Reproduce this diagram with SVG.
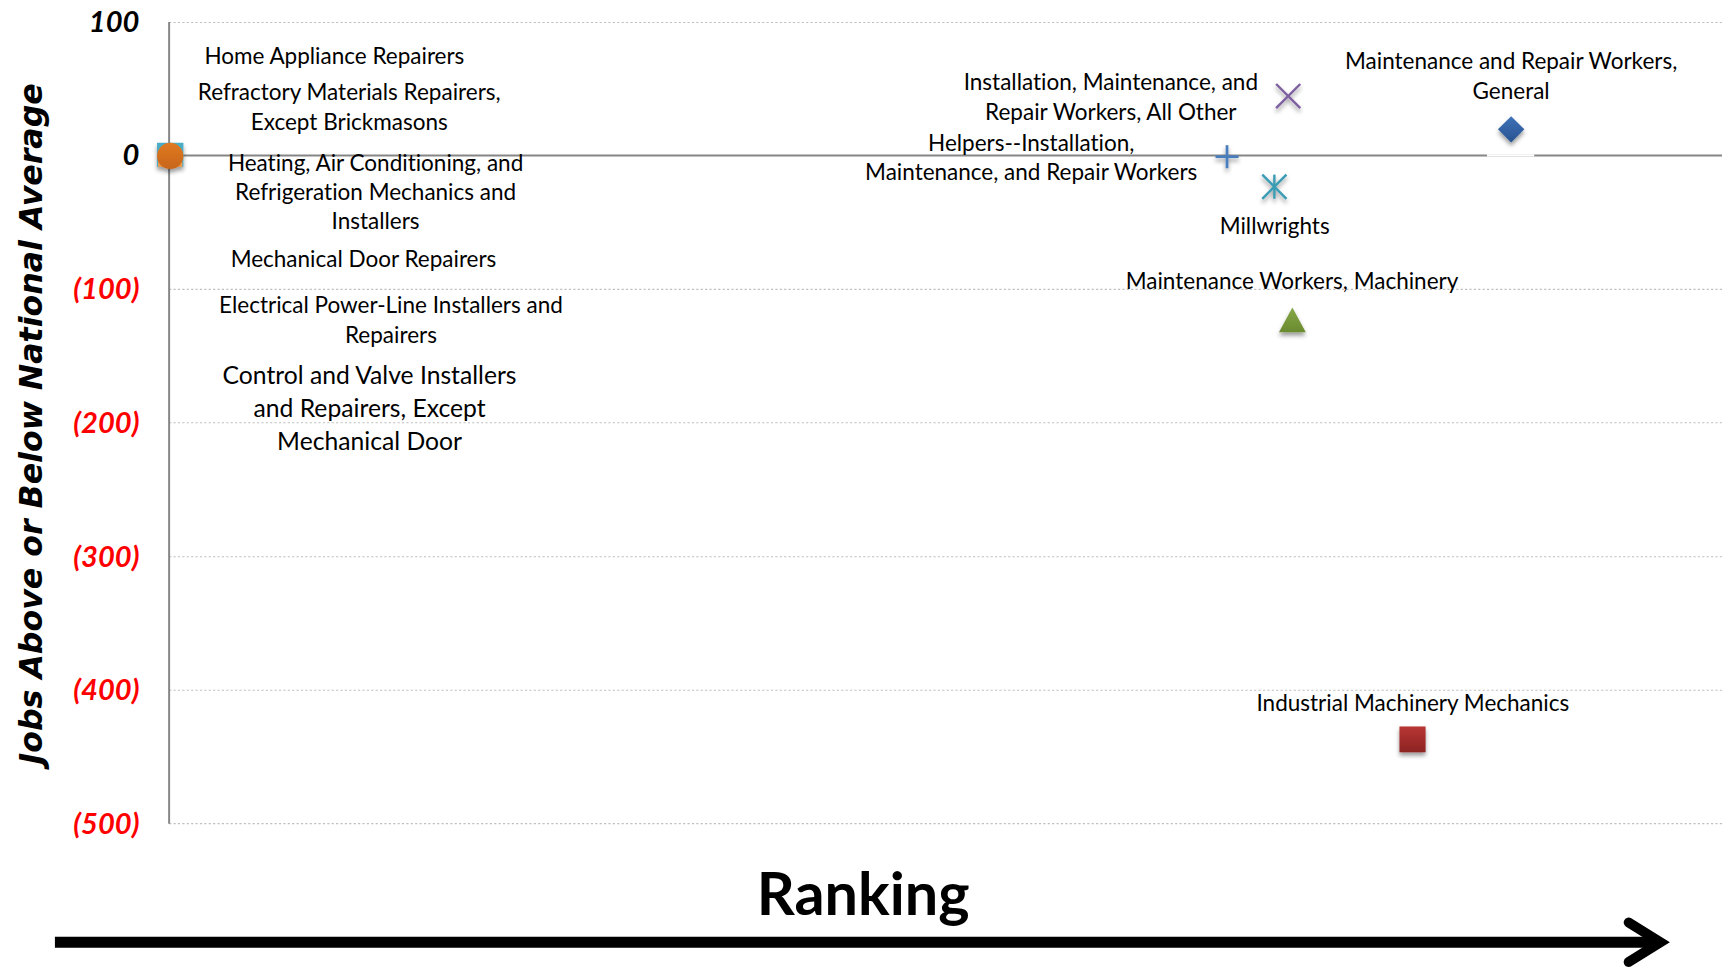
<svg xmlns="http://www.w3.org/2000/svg" width="1722" height="967" viewBox="0 0 1722 967">
  <style>
    text { font-variant-ligatures: none; }
    .lbl { font-family: Lato, "Open Sans", "Liberation Sans", sans-serif; font-size: 20.5px; fill: #000; text-anchor: middle; }
    .lbl-lg { font-size: 22.5px; }
    .tick { font-family: Lato, "Liberation Sans", sans-serif; font-size: 26.5px; font-weight: bold; font-style: italic; text-anchor: end; }
    .neg { fill: #ff0000; }
    .grid { stroke: #c0c0c0; stroke-width: 1; stroke-dasharray: 2 2; fill: none; }
    .axis { stroke: #868686; stroke-width: 1.8; fill: none; }
    .ytitle { font-family: "DejaVu Sans", Verdana, sans-serif; font-size: 28.8px; font-weight: bold; font-style: italic; text-anchor: middle; }
    .xtitle { font-family: Lato, "Liberation Sans", sans-serif; font-size: 54px; font-weight: bold; text-anchor: middle; }
  </style>
  <defs>
    <filter id="sh" x="-50%" y="-50%" width="200%" height="200%">
      <feDropShadow dx="0" dy="3" stdDeviation="2" flood-color="#000" flood-opacity="0.4"/>
    </filter>
    <linearGradient id="gRed" x1="0" y1="0" x2="0" y2="1">
      <stop offset="0" stop-color="#B83532"/>
      <stop offset="1" stop-color="#8C2423"/>
    </linearGradient>
    <linearGradient id="gBlue" x1="0" y1="0" x2="0" y2="1">
      <stop offset="0" stop-color="#3F72B8"/>
      <stop offset="1" stop-color="#275390"/>
    </linearGradient>
    <linearGradient id="gGreen" x1="0" y1="0" x2="0" y2="1">
      <stop offset="0" stop-color="#86A847"/>
      <stop offset="1" stop-color="#6A8A30"/>
    </linearGradient>
    <linearGradient id="gOrange" x1="0" y1="0" x2="0" y2="1">
      <stop offset="0" stop-color="#E07A22"/>
      <stop offset="1" stop-color="#C7651A"/>
    </linearGradient>
  </defs>
  <rect width="1722" height="967" fill="#ffffff"/>
  <g transform="scale(1.09821)">
    <g id="axes">
      <line class="grid" x1="154" y1="20.5" x2="1568" y2="20.5"/>
      <line class="grid" x1="154" y1="263.5" x2="1568" y2="263.5"/>
      <line class="grid" x1="154" y1="385" x2="1568" y2="385"/>
      <line class="grid" x1="154" y1="507" x2="1568" y2="507"/>
      <line class="grid" x1="154" y1="628.5" x2="1568" y2="628.5"/>
      <line class="grid" x1="154" y1="750" x2="1568" y2="750"/>
      <line class="axis" x1="154" y1="141.5" x2="1568" y2="141.5"/>
      <line class="axis" x1="154" y1="20" x2="154" y2="750"/>
      <line x1="1354" y1="141.5" x2="1397" y2="141.5" stroke="#ffffff" stroke-width="2.2"/>
      <text class="tick" x="127" y="29.5">100</text>
      <text class="tick" x="127" y="150.5">0</text>
      <text class="tick neg" x="127" y="272.5">(100)</text>
      <text class="tick neg" x="127" y="394">(200)</text>
      <text class="tick neg" x="127" y="516">(300)</text>
      <text class="tick neg" x="127" y="637.5">(400)</text>
      <text class="tick neg" x="127" y="759">(500)</text>
      <text class="ytitle" transform="translate(38,386) rotate(-90)">Jobs Above or Below National Average</text>
    </g>
    <g id="connectors">
      <line x1="50" y1="858" x2="1508" y2="858" stroke="#000" stroke-width="10"/>
      <path d="M1483,840 L1512,858 L1483,876" fill="none" stroke="#000" stroke-width="9" stroke-linecap="round" stroke-linejoin="miter"/>
    </g>
    <g id="x-title">
      <text class="xtitle" x="786" y="833">Ranking</text>
    </g>

    <g id="node-origin-markers" filter="url(#sh)">
      <rect x="143" y="130" width="24" height="22" fill="#4BACC6"/>
      <rect x="144" y="147" width="22" height="5" fill="#F09A4A"/>
      <circle cx="155" cy="142" r="12" fill="url(#gOrange)"/>
    </g>
    <g id="node-home-appliance">
      <text class="lbl" x="304.5" y="58.5">Home Appliance Repairers</text>
    </g>
    <g id="node-refractory">
      <text class="lbl" x="318" y="91">Refractory Materials Repairers,</text>
      <text class="lbl" x="318" y="118">Except Brickmasons</text>
    </g>
    <g id="node-hvac">
      <text class="lbl" x="342" y="156">Heating, Air Conditioning, and</text>
      <text class="lbl" x="342" y="182.3">Refrigeration Mechanics and</text>
      <text class="lbl" x="342" y="208.5">Installers</text>
    </g>
    <g id="node-mech-door">
      <text class="lbl" x="331" y="243">Mechanical Door Repairers</text>
    </g>
    <g id="node-power-line">
      <text class="lbl" x="356" y="285">Electrical Power-Line Installers and</text>
      <text class="lbl" x="356" y="312">Repairers</text>
    </g>
    <g id="node-control-valve">
      <text class="lbl lbl-lg" x="336.5" y="349.5">Control and Valve Installers</text>
      <text class="lbl lbl-lg" x="336.5" y="379.5">and Repairers, Except</text>
      <text class="lbl lbl-lg" x="336.5" y="409.5">Mechanical Door</text>
    </g>

    <g id="node-imr-all-other">
      <text class="lbl" x="1011.5" y="82">Installation, Maintenance, and</text>
      <text class="lbl" x="1011.5" y="109.4">Repair Workers, All Other</text>
      <g filter="url(#sh)" stroke="#7E5FA0" stroke-width="2.2">
        <line x1="1162" y1="76.5" x2="1184" y2="98.5"/>
        <line x1="1184" y1="76.5" x2="1162" y2="98.5"/>
      </g>
    </g>
    <g id="node-helpers">
      <text class="lbl" x="939" y="137.6">Helpers--Installation,</text>
      <text class="lbl" x="939" y="164">Maintenance, and Repair Workers</text>
      <g filter="url(#sh)" stroke="#4A7EBE" stroke-width="2.5">
        <line x1="1106.8" y1="142.7" x2="1127.8" y2="142.7"/>
        <line x1="1117.3" y1="132.2" x2="1117.3" y2="153.2"/>
      </g>
    </g>
    <g id="node-millwrights">
      <g filter="url(#sh)" stroke="#3A9CB3" stroke-width="2.2">
        <line x1="1160.4" y1="159" x2="1160.4" y2="181"/>
        <line x1="1149.4" y1="159" x2="1171.4" y2="181"/>
        <line x1="1171.4" y1="159" x2="1149.4" y2="181"/>
      </g>
      <text class="lbl" x="1160.7" y="213.5">Millwrights</text>
    </g>
    <g id="node-maint-machinery">
      <text class="lbl" x="1176.5" y="263.5">Maintenance Workers, Machinery</text>
      <polygon points="1176.8,280 1189,302.5 1164.6,302.5" fill="url(#gGreen)" filter="url(#sh)"/>
    </g>
    <g id="node-mr-general">
      <text class="lbl" x="1376" y="63.2">Maintenance and Repair Workers,</text>
      <text class="lbl" x="1376" y="90.5">General</text>
      <polygon points="1376,105.8 1388,117.8 1376,129.8 1364,117.8" fill="url(#gBlue)" filter="url(#sh)"/>
    </g>
    <g id="node-industrial">
      <text class="lbl" x="1286.5" y="647">Industrial Machinery Mechanics</text>
      <rect x="1274.3" y="661.5" width="23.8" height="23.5" fill="url(#gRed)" filter="url(#sh)"/>
    </g>
  </g>
</svg>
